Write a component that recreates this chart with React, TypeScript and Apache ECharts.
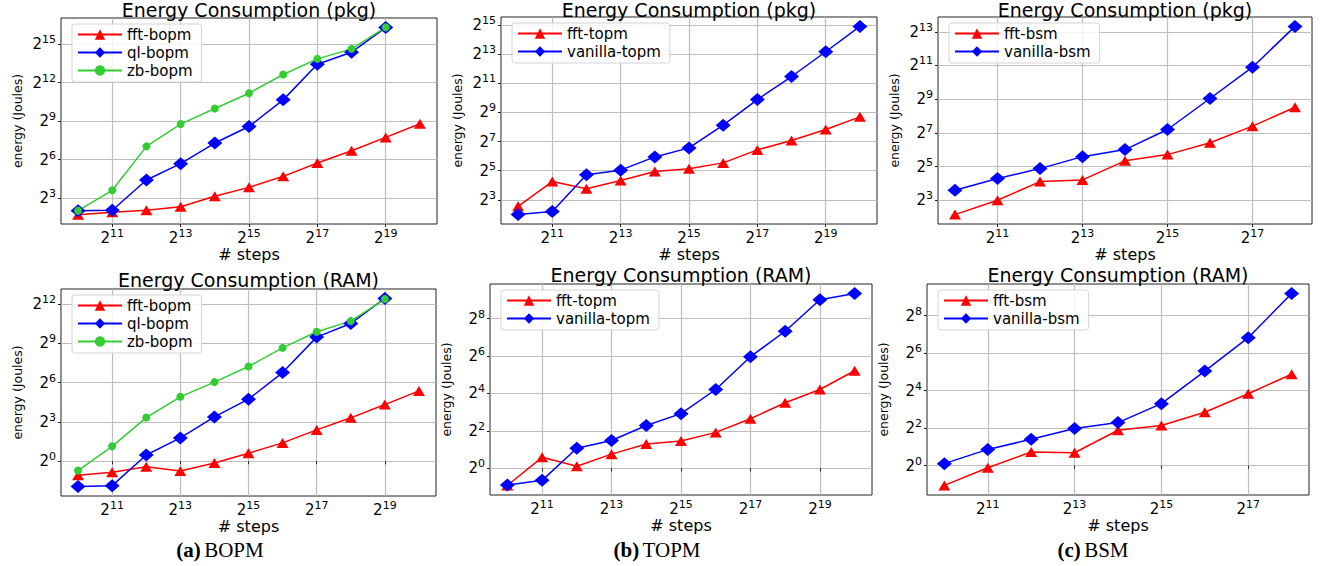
import React, { useEffect, useRef } from 'react';
import * as echarts from 'echarts';

// x values: log2(# steps)
const stepsLong = [10, 11, 12, 13, 14, 15, 16, 17, 18, 19, 20];
const stepsShort = [10, 11, 12, 13, 14, 15, 16, 17, 18];

// y values: log2(energy in Joules)
const bopmPkgFft = [1.70, 1.88, 2.04, 2.32, 3.13, 3.83, 4.69, 5.73, 6.69, 7.73, 8.79];
const bopmPkgQl = [2.01, 2.04, 4.40, 5.68, 7.29, 8.58, 10.66, 13.44, 14.38, 16.30];
const bopmPkgZb = [2.01, 3.60, 7.03, 8.77, 9.99, 11.18, 12.64, 13.86, 14.64, 16.32];
const topmPkgFft = [2.56, 4.26, 3.76, 4.33, 4.95, 5.13, 5.54, 6.43, 7.08, 7.83, 8.70];
const topmPkgVanilla = [1.99, 2.20, 4.72, 5.04, 5.95, 6.57, 8.13, 9.89, 11.47, 13.17, 14.91];
const bsmPkgFft = [2.15, 3.00, 4.11, 4.21, 5.34, 5.71, 6.41, 7.40, 8.52];
const bsmPkgVanilla = [3.59, 4.29, 4.88, 5.59, 6.01, 7.20, 9.04, 10.90, 13.32];
const bopmRamFft = [-1.07, -0.84, -0.41, -0.74, -0.13, 0.61, 1.40, 2.39, 3.31, 4.32, 5.36];
const bopmRamQl = [-1.93, -1.86, 0.48, 1.78, 3.38, 4.73, 6.76, 9.46, 10.50, 12.41];
const bopmRamZb = [-0.71, 1.14, 3.33, 4.91, 6.03, 7.22, 8.64, 9.87, 10.68, 12.36];
const topmRamFft = [-0.91, 0.59, 0.11, 0.76, 1.30, 1.46, 1.92, 2.65, 3.50, 4.21, 5.21];
const topmRamVanilla = [-0.89, -0.64, 1.07, 1.49, 2.29, 2.92, 4.21, 5.96, 7.32, 9.00, 9.33];
const bsmRamFft = [-1.05, -0.11, 0.73, 0.69, 1.89, 2.15, 2.85, 3.84, 4.88];
const bsmRamVanilla = [0.11, 0.87, 1.41, 1.99, 2.30, 3.31, 5.05, 6.83, 9.18];

// tick exponents
const xTicksLong = [11, 13, 15, 17, 19];
const xTicksShort = [11, 13, 15, 17];
const yTicksBopmPkg = [3, 6, 9, 12, 15];
const yTicksTopmPkg = [3, 5, 7, 9, 11, 13, 15];
const yTicksBsmPkg = [3, 5, 7, 9, 11, 13];
const yTicksBopmRam = [0, 3, 6, 9, 12];
const yTicksTopmRam = [0, 2, 4, 6, 8];
const yTicksBsmRam = [0, 2, 4, 6, 8];

const titles = ['Energy Consumption (pkg)', 'Energy Consumption (RAM)'];
const captions = [
  { tag: '(a)', name: 'BOPM' },
  { tag: '(b)', name: 'TOPM' },
  { tag: '(c)', name: 'BSM' },
];

type Line = { name: string; kind: 'fft' | 'alt' | 'zb'; data: number[] };

const panels: { title: string; steps: number[]; xTicks: number[]; yTicks: number[]; lines: Line[] }[] = [
  {
    title: titles[0], steps: stepsLong, xTicks: xTicksLong, yTicks: yTicksBopmPkg,
    lines: [
      { name: 'fft-bopm', kind: 'fft', data: bopmPkgFft },
      { name: 'ql-bopm', kind: 'alt', data: bopmPkgQl },
      { name: 'zb-bopm', kind: 'zb', data: bopmPkgZb },
    ],
  },
  {
    title: titles[0], steps: stepsLong, xTicks: xTicksLong, yTicks: yTicksTopmPkg,
    lines: [
      { name: 'fft-topm', kind: 'fft', data: topmPkgFft },
      { name: 'vanilla-topm', kind: 'alt', data: topmPkgVanilla },
    ],
  },
  {
    title: titles[0], steps: stepsShort, xTicks: xTicksShort, yTicks: yTicksBsmPkg,
    lines: [
      { name: 'fft-bsm', kind: 'fft', data: bsmPkgFft },
      { name: 'vanilla-bsm', kind: 'alt', data: bsmPkgVanilla },
    ],
  },
  {
    title: titles[1], steps: stepsLong, xTicks: xTicksLong, yTicks: yTicksBopmRam,
    lines: [
      { name: 'fft-bopm', kind: 'fft', data: bopmRamFft },
      { name: 'ql-bopm', kind: 'alt', data: bopmRamQl },
      { name: 'zb-bopm', kind: 'zb', data: bopmRamZb },
    ],
  },
  {
    title: titles[1], steps: stepsLong, xTicks: xTicksLong, yTicks: yTicksTopmRam,
    lines: [
      { name: 'fft-topm', kind: 'fft', data: topmRamFft },
      { name: 'vanilla-topm', kind: 'alt', data: topmRamVanilla },
    ],
  },
  {
    title: titles[1], steps: stepsShort, xTicks: xTicksShort, yTicks: yTicksBsmRam,
    lines: [
      { name: 'fft-bsm', kind: 'fft', data: bsmRamFft },
      { name: 'vanilla-bsm', kind: 'alt', data: bsmRamVanilla },
    ],
  },
];

// layout (pixels)
const gridRects = [
  { left: 61, top: 18, width: 376, height: 206 },
  { left: 501, top: 17, width: 376, height: 207 },
  { left: 938, top: 17, width: 374, height: 207 },
  { left: 61, top: 289, width: 375, height: 207 },
  { left: 490, top: 284, width: 382, height: 211 },
  { left: 927, top: 284, width: 382, height: 211 },
];
const titleTops = [0, 0, 0, 270, 265, 265];
const captionPos = [
  { x: 220, y: 550 },
  { x: 657, y: 550 },
  { x: 1093, y: 550 },
];

const FONT = "'DejaVu Sans', sans-serif";
const SERIF = "'Liberation Serif', serif";

const styleOf = (kind: string) => {
  if (kind === 'fft') return { color: '#ff0000', symbol: 'triangle', symbolSize: [12, 10] };
  if (kind === 'zb') return { color: '#33cc33', symbol: 'circle', symbolSize: 8 };
  return { color: '#0000ff', symbol: 'diamond', symbolSize: [15, 13] };
};

const pow2Label = (v: number) => `{b|2}{s|${Math.round(v)}}`;
const powRich = {
  b: { fontSize: 15, fontFamily: FONT, color: '#000', lineHeight: 20 },
  s: { fontSize: 11, fontFamily: FONT, color: '#000', lineHeight: 12, verticalAlign: 'top' },
};

function buildOption() {
  const grid: any[] = [];
  const xAxis: any[] = [];
  const yAxis: any[] = [];
  const series: any[] = [];
  const legend: any[] = [];
  const title: any[] = [];

  panels.forEach((p, i) => {
    const r = gridRects[i];
    grid.push({ ...r, show: true, borderColor: '#222', borderWidth: 1, backgroundColor: '#fff' });

    const xs = p.steps;
    const xPad = (xs[xs.length - 1] - xs[0]) * 0.05;
    const allY = p.lines.flatMap((l) => l.data);
    const yMin = Math.min(...allY);
    const yMax = Math.max(...allY);
    const yPad = (yMax - yMin) * 0.05;

    xAxis.push({
      type: 'value',
      gridIndex: i,
      min: xs[0] - xPad,
      max: xs[xs.length - 1] + xPad,
      name: '# steps',
      nameLocation: 'middle',
      nameGap: 17,
      nameTextStyle: { fontSize: 16, fontFamily: FONT, color: '#000' },
      axisLine: { show: false },
      axisTick: { show: true, length: 3, lineStyle: { color: '#222' }, customValues: p.xTicks },
      axisLabel: {
        customValues: p.xTicks,
        margin: 4,
        formatter: pow2Label,
        rich: powRich,
      },
      splitLine: { show: true, lineStyle: { color: '#bdbdbd', width: 1.2 } },
    });
    yAxis.push({
      type: 'value',
      gridIndex: i,
      min: yMin - yPad,
      max: yMax + yPad,
      name: 'energy (Joules)',
      nameLocation: 'middle',
      nameRotate: 90,
      nameGap: 37,
      nameTextStyle: { fontSize: 12.5, fontFamily: FONT, color: '#000' },
      axisLine: { show: false },
      axisTick: { show: true, length: 3, lineStyle: { color: '#222' }, customValues: p.yTicks },
      axisLabel: {
        customValues: p.yTicks,
        margin: 5,
        formatter: pow2Label,
        rich: powRich,
      },
      splitLine: { show: true, lineStyle: { color: '#bdbdbd', width: 1.2 } },
    });

    p.lines.forEach((l) => {
      const st = styleOf(l.kind);
      series.push({
        type: 'line',
        name: l.name,
        xAxisIndex: i,
        yAxisIndex: i,
        data: l.data.map((v, k) => [xs[k], v]),
        symbol: st.symbol,
        symbolSize: st.symbolSize,
        showAllSymbol: true,
        lineStyle: { color: st.color, width: 1.5 },
        itemStyle: { color: st.color },
        z: 3,
      });
    });

    legend.push({
      orient: 'vertical',
      left: r.left + 11,
      top: r.top + 6,
      data: p.lines.map((l) => l.name),
      selectedMode: false,
      itemWidth: 44,
      itemHeight: 13,
      itemGap: 3,
      padding: [3, 9, 4, 5],
      backgroundColor: 'rgba(255,255,255,0.85)',
      borderColor: '#d4d4d4',
      borderWidth: 1,
      borderRadius: 3,
      textStyle: { fontSize: 15, fontFamily: FONT, color: '#000' },
      z: 5,
    });

    title.push({
      text: p.title,
      left: r.left + r.width / 2,
      top: titleTops[i],
      textAlign: 'center',
      padding: 0,
      textStyle: { fontSize: 19, fontWeight: 'normal', fontFamily: FONT, color: '#000' },
    });
  });

  const graphic = captions.map((c, i) => ({
    type: 'text',
    x: captionPos[i].x,
    y: captionPos[i].y,
    style: {
      text: `{b|${c.tag}} {n|${c.name}}`,
      align: 'center',
      verticalAlign: 'middle',
      rich: {
        b: { fontSize: 21, fontWeight: 'bold', fontFamily: SERIF, fill: '#000' },
        n: { fontSize: 21, fontFamily: SERIF, fill: '#000' },
      },
    },
  }));

  return {
    animation: false,
    backgroundColor: '#fff',
    grid,
    xAxis,
    yAxis,
    series,
    legend,
    title,
    graphic,
  };
}

export default function App() {
  const ref = useRef<HTMLDivElement>(null);
  useEffect(() => {
    if (!ref.current) return;
    const chart = echarts.init(ref.current, undefined, { renderer: 'svg' });
    chart.setOption(buildOption() as any);
    return () => chart.dispose();
  }, []);
  return (
    <div
      ref={ref}
      style={{ position: 'absolute', left: 0, top: 0, width: 1324, height: 566 }}
    />
  );
}
